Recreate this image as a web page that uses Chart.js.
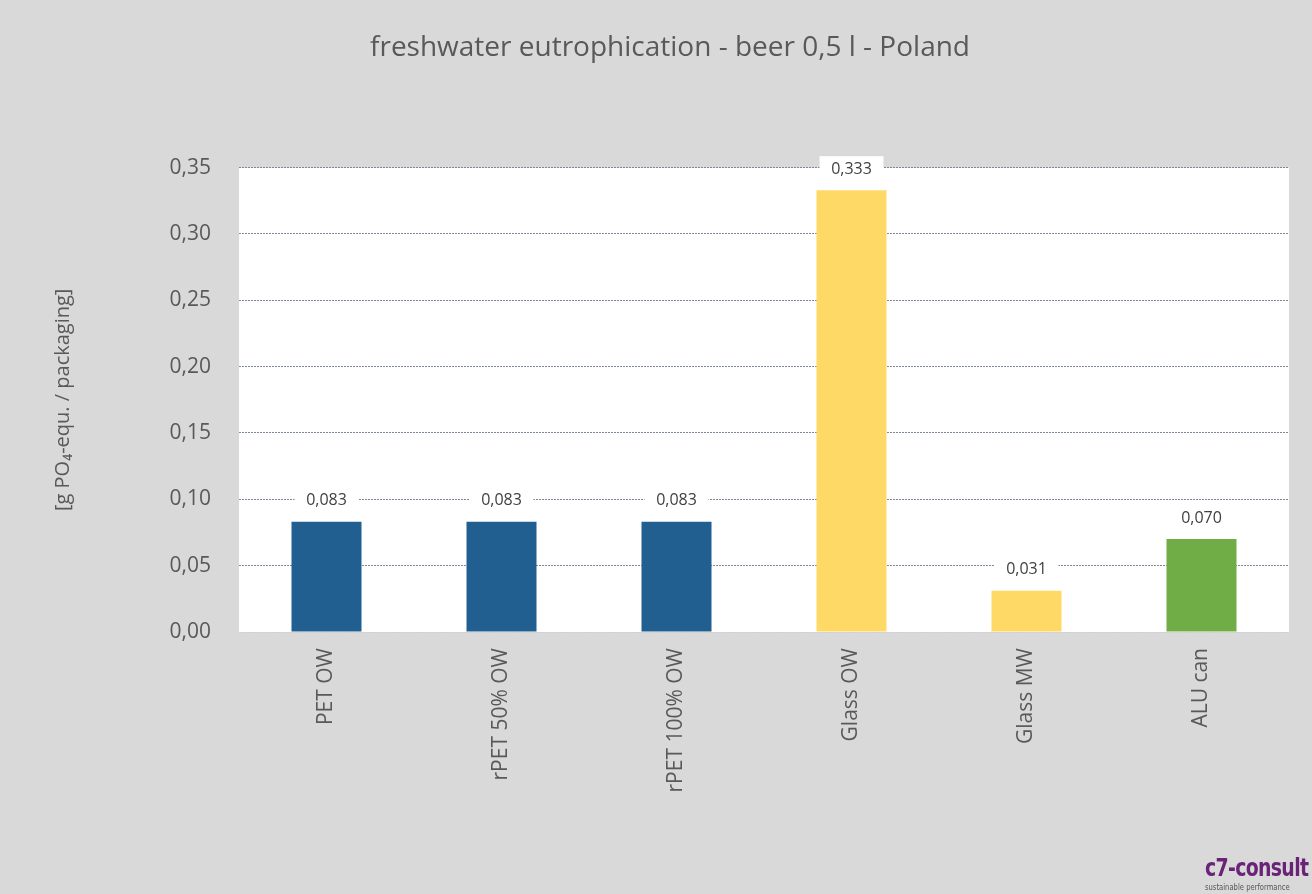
<!DOCTYPE html>
<html>
<head>
<meta charset="utf-8">
<script src="https://cdn.jsdelivr.net/npm/chart.js@4/dist/chart.umd.min.js"></script>
<style>
  html,body{margin:0;padding:0;background:#d9d9d9;}
  #wrap{position:relative;width:1312px;height:894px;overflow:hidden;}
  #logo{position:absolute;left:1205px;top:855px;font-family:"DejaVu Sans Condensed","DejaVu Sans",sans-serif;font-weight:bold;color:#6a2377;font-size:25px;line-height:1;white-space:nowrap;letter-spacing:-0.8px;transform:scaleX(0.84);transform-origin:left top;}
  #logo small{display:block;font-size:9px;font-weight:normal;color:#555;letter-spacing:0;margin-top:3px;}
</style>
</head>
<body>
<div id="wrap">
  <canvas id="chart" width="1312" height="894"></canvas>
  <div id="logo">c7-consult<small>sustainable performance</small></div>
</div>
<script>
const categories = ['PET OW','rPET 50% OW','rPET 100% OW','Glass OW','Glass MW','ALU can'];
const values = [0.083, 0.083, 0.083, 0.333, 0.031, 0.070];
const barColors = ['#215f90','#215f90','#215f90','#ffd966','#ffd966','#70ad47'];
const yTicks = [0, 0.05, 0.10, 0.15, 0.20, 0.25, 0.30, 0.35];

const fmt = (v, d) => v.toFixed(d).replace('.', ',');

const background = {
  id:'background',
  beforeDraw(chart){
    const {ctx, chartArea:a} = chart;
    ctx.save();
    ctx.fillStyle = '#d9d9d9';
    ctx.fillRect(0, 0, chart.width, chart.height);
    ctx.fillStyle = '#ffffff';
    ctx.fillRect(a.left, a.top, a.right - a.left, a.bottom - a.top);
    ctx.restore();
  }
};

const valueLabels = {
  id:'valueLabels',
  afterDatasetsDraw(chart){
    const {ctx} = chart;
    const meta = chart.getDatasetMeta(0);
    ctx.save();
    ctx.font = '16px "Open Sans", sans-serif';
    ctx.textAlign = 'center';
    ctx.textBaseline = 'middle';
    meta.data.forEach((bar, i) => {
      const y = bar.y - 21;
      ctx.fillStyle = '#ffffff';
      ctx.fillRect(bar.x - 32, y - 13, 64, 26);
      ctx.fillStyle = '#404040';
      ctx.fillText(fmt(values[i], 3), bar.x, y);
    });
    ctx.restore();
  }
};

new Chart(document.getElementById('chart'), {
  type:'bar',
  data:{
    labels:categories,
    datasets:[{data:values, backgroundColor:barColors, categoryPercentage:0.4, barPercentage:1}]
  },
  options:{
    responsive:false,
    animation:false,
    layout:{padding:{left:51, right:23, top:0, bottom:0}},
    plugins:{
      legend:{display:false},
      tooltip:{enabled:false},
      title:{display:true, text:'freshwater eutrophication - beer 0,5 l - Poland', color:'#595959',
        font:{family:'"Open Sans", sans-serif', size:28, weight:'normal'}, padding:{top:31, bottom:103}}
    },
    scales:{
      x:{
        grid:{display:false},
        border:{display:false},
        ticks:{color:'#595959', font:{family:'"Open Sans", sans-serif', size:21}, maxRotation:90, minRotation:90, padding:8},
        afterFit(s){ s.height = 262; }
      },
      y:{
        min:0, max:0.35,
        afterBuildTicks(s){ s.ticks = yTicks.map(v => ({value:v})); },
        grid:{drawTicks:false, color:c => c.tick && c.tick.value === 0 ? '#d0d0d0' : '#7d8898', borderDash:[2,1], lineWidth:1},
        border:{display:false, dash:[2,1]},
        ticks:{color:'#595959', font:{family:'"Open Sans", sans-serif', size:21}, padding:28, callback:v => fmt(v, 2)},
        title:{display:true, text:'[g PO₄-equ. / packaging]', color:'#595959', font:{family:'"Open Sans", sans-serif', size:20}, padding:{top:0, bottom:0}},
        afterFit(s){ s.width = 188; }
      }
    }
  },
  plugins:[background, valueLabels]
});
</script>
</body>
</html>
